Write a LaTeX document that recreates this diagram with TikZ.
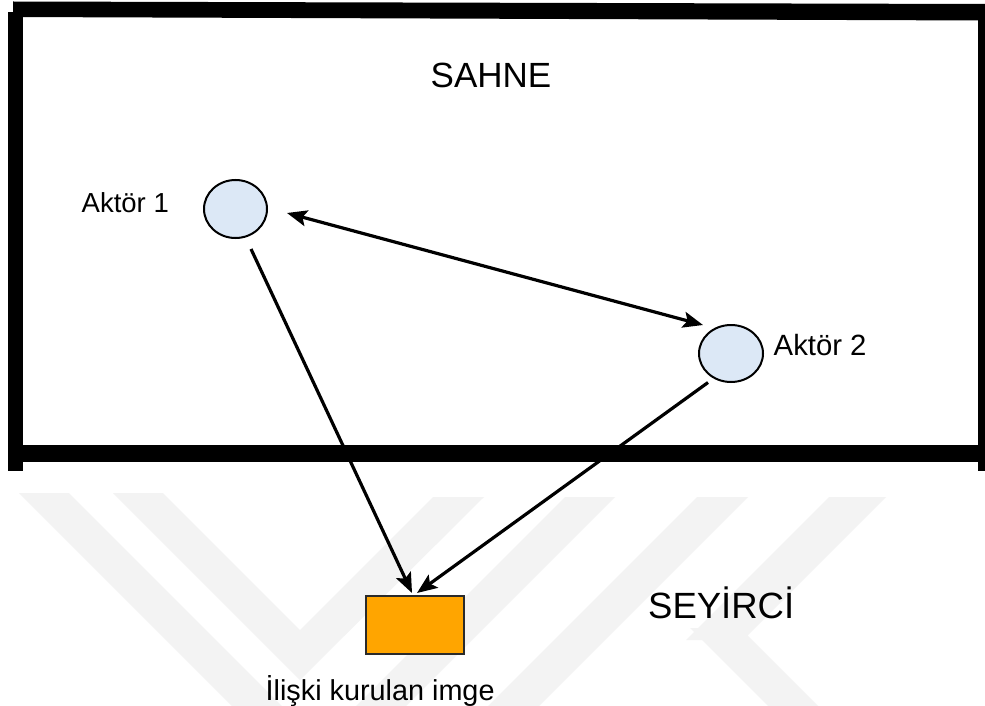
\documentclass[tikz,border=0pt]{standalone}
\usepackage{fontspec}
\setmainfont{Liberation Sans}
\usetikzlibrary{arrows.meta,shapes.geometric}
\definecolor{actorfill}{HTML}{DCE8F6}
\definecolor{imagefill}{HTML}{FFA500}
\definecolor{markgray}{HTML}{F3F3F3}
\definecolor{edgegray}{HTML}{2A2A2A}
\begin{document}
\begin{tikzpicture}[x=1pt,y=-1pt,
  actor/.style={ellipse, draw=black, line width=2pt, fill=actorfill,
    minimum width=63pt, minimum height=58pt, inner sep=0pt},
  imagebox/.style={rectangle, draw=edgegray, line width=1.6pt, fill=imagefill,
    minimum width=98pt, minimum height=58pt, inner sep=0pt},
  lbl/.style={inner sep=0pt, anchor=base west},
  headtip/.tip={Stealth[length=20pt,width=16pt,inset=4pt]},
  link/.style={line width=3.2pt, -{headtip}},
  twoway/.style={line width=3.2pt, {headtip}-{headtip}},
  wmark/.style={fill=markgray},
  beam/.style={fill=black}]
\useasboundingbox (0,0) rectangle (985,706);
\fill[white] (0,0) rectangle (985,706);

% faint background chevrons below the stage
\fill[wmark] (19,493) -- (69,493) -- (282,706) -- (232,706) -- cycle;
\fill[wmark] (113,493) -- (163,493) -- (300,630) -- (433,497) -- (484,497)
  -- (300,680) -- cycle;
\fill[wmark] (565,497) -- (615,497) -- (406,706) -- (356,706) -- cycle;
\fill[wmark] (697,497) -- (748,497) -- (539,706) -- (488,706) -- cycle;
\fill[wmark] (829,497) -- (886,497) -- (743,640) -- (686,640) -- cycle;
\fill[wmark] (690,628) -- (740,628) -- (818,706) -- (768,706) -- cycle;

% stage frame
\fill[beam] (13,1.5) -- (985,4) -- (985,20.5) -- (13,17) -- cycle;
\fill[beam] (7.5,12) rectangle (23,471);
\fill[beam] (978,4) rectangle (985,471);
\fill[beam] (7.5,445) rectangle (985,462);

% actors and the image
\node[actor] (a1) at (235.5,209) {};
\node[actor, minimum width=64pt, minimum height=57pt] (a2) at (731,353.5) {};
\node[imagebox] (img) at (415,625) {};

% labels
\node[lbl, font=\fontsize{35}{42}\selectfont] (sahne) at (430.5,87.3) {SAHNE};
\node[lbl, font=\fontsize{27.5}{33}\selectfont] (l1) at (81.5,212) {Aktör 1};
\node[lbl, font=\fontsize{29.3}{35}\selectfont] (l2) at (773.5,355.7) {Aktör 2};
\node[lbl, font=\fontsize{36.5}{44}\selectfont] (seyirci) at (648,618.5) {SEYİRCİ};
\node[lbl, font=\fontsize{28.8}{34}\selectfont] (limg) at (265.5,700) {İlişki kurulan imge};

% connectors
\draw[twoway] ([shift={(51.5,4)}]a1.center) -- ([shift={(-28,-28.5)}]a2.center);
\draw[link] ([shift={(15.5,40)}]a1.center) -- ([shift={(-3,-32)}]img.center);
\draw[link] ([shift={(-23,29)}]a2.center) -- ([shift={(2,-32)}]img.center);
\end{tikzpicture}
\end{document}
